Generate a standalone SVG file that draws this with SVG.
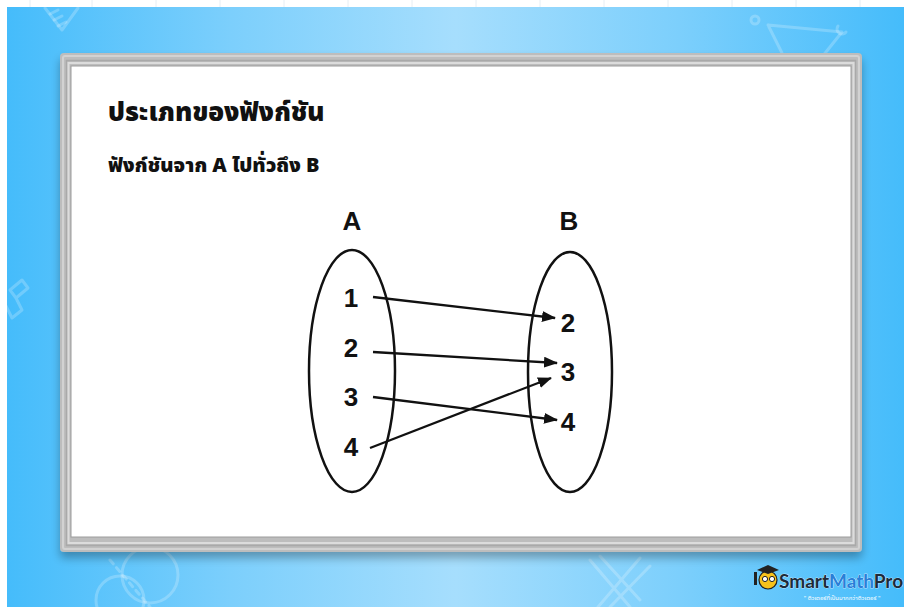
<svg xmlns="http://www.w3.org/2000/svg" width="904" height="607" viewBox="0 0 904 607">
  <defs>
    <linearGradient id="sky" x1="0" y1="0" x2="1" y2="0">
      <stop offset="0" stop-color="#45bcfb"/>
      <stop offset="0.25" stop-color="#7ccffc"/>
      <stop offset="0.5" stop-color="#a6defd"/>
      <stop offset="0.75" stop-color="#7ccffc"/>
      <stop offset="1" stop-color="#45bcfb"/>
    </linearGradient>
    <filter id="shadow" x="-5%" y="-5%" width="110%" height="115%">
      <feGaussianBlur in="SourceAlpha" stdDeviation="5"/>
      <feOffset dx="0" dy="6"/>
      <feComponentTransfer><feFuncA type="linear" slope="0.3"/></feComponentTransfer>
      <feMerge><feMergeNode/><feMergeNode in="SourceGraphic"/></feMerge>
    </filter>
    <marker id="arrow" markerWidth="14" markerHeight="11" refX="13" refY="5.5" orient="auto" markerUnits="userSpaceOnUse">
      <path d="M0,0 L14,5.5 L0,11 Z" fill="#111"/>
    </marker>
    <style>
      .thai { font-family: "Noto Sans Thai", "Noto Sans", "Liberation Sans", sans-serif; font-weight: 900; fill: #111; }
      .lbl { font-family: "Liberation Sans", Arial, sans-serif; font-weight: bold; fill: #111; text-anchor: middle; }
      .set { fill: none; stroke: #111; stroke-width: 2.5; }
      .edge { fill: none; stroke: #111; stroke-width: 2.3; marker-end: url(#arrow); }
      .deco { fill: none; stroke: #ffffff; stroke-opacity: 0.22; stroke-width: 3; stroke-linecap: round; stroke-linejoin: round; }
      .grid { stroke: #e6eef4; stroke-width: 1; }
    </style>
  </defs>

  <!-- page background with grid strip -->
  <rect x="0" y="0" width="904" height="607" fill="#ffffff"/>
  <g class="grid">
    <line x1="30" y1="0" x2="30" y2="7"/><line x1="92" y1="0" x2="92" y2="7"/>
    <line x1="156" y1="0" x2="156" y2="7"/><line x1="220" y1="0" x2="220" y2="7"/>
    <line x1="284" y1="0" x2="284" y2="7"/><line x1="348" y1="0" x2="348" y2="7"/>
    <line x1="412" y1="0" x2="412" y2="7"/><line x1="476" y1="0" x2="476" y2="7"/>
    <line x1="540" y1="0" x2="540" y2="7"/><line x1="604" y1="0" x2="604" y2="7"/>
    <line x1="668" y1="0" x2="668" y2="7"/><line x1="732" y1="0" x2="732" y2="7"/>
    <line x1="796" y1="0" x2="796" y2="7"/><line x1="860" y1="0" x2="860" y2="7"/>
  </g>
  <rect x="7" y="7" width="897" height="600" fill="url(#sky)"/>

  <!-- faint background doodles -->
  <g class="deco">
    <path d="M45,8 L62,30 L78,8"/>
    <path d="M50,14 L58,10 M54,20 L62,16 M58,26 L66,22"/>
    <circle cx="755" cy="20" r="4"/>
    <path d="M768,25 L842,32 L818,62 M768,25 L782,53"/>
    <path d="M838,26 a5,5 0 1 0 8,6"/>
    <path d="M10,290 L22,280 L28,288 L16,298 Z M16,298 L22,310 L12,318 L6,306"/>
    <circle cx="150" cy="575" r="28"/>
    <circle cx="120" cy="600" r="24"/>
    <path d="M110,560 L150,607" stroke-dasharray="5 5"/>
    <path d="M590,560 L630,607 M600,556 L640,600 M640,558 L598,607 M650,566 L610,607"/>
  </g>

  <!-- board frame -->
  <g id="board" filter="url(#shadow)">
    <rect x="60" y="53" width="802" height="499" rx="4" fill="#bdbdbd"/>
    <rect x="63" y="56" width="796" height="493" rx="2" fill="none" stroke="#d2d2d2" stroke-width="2"/>
    <rect x="66.5" y="60.5" width="789" height="485" fill="none" stroke="#a9a9a9" stroke-width="1.5"/>
    <rect x="68.5" y="63" width="785" height="480" fill="none" stroke="#dcdcdc" stroke-width="2"/>
    <rect x="71" y="66" width="780" height="471" fill="#ffffff" stroke="#9c9c9c" stroke-width="1"/>
  </g>

  <!-- headings -->
  <g id="title">
    <text class="thai" x="108" y="121" font-size="26">ประเภทของฟังก์ชัน</text>
  </g>
  <g id="subtitle">
    <text class="thai" x="108" y="172" font-size="20">ฟังก์ชันจาก A ไปทั่วถึง B</text>
  </g>

  <!-- set A -->
  <g id="setA">
    <ellipse class="set" cx="352" cy="371" rx="43" ry="121"/>
    <text class="lbl" x="352" y="230" font-size="26">A</text>
    <text class="lbl" x="351" y="307" font-size="26">1</text>
    <text class="lbl" x="351" y="357" font-size="26">2</text>
    <text class="lbl" x="351" y="406" font-size="26">3</text>
    <text class="lbl" x="351" y="456" font-size="26">4</text>
  </g>

  <!-- set B -->
  <g id="setB">
    <ellipse class="set" cx="570" cy="372" rx="42" ry="120"/>
    <text class="lbl" x="569" y="230" font-size="26">B</text>
    <text class="lbl" x="568" y="332" font-size="26">2</text>
    <text class="lbl" x="568" y="381" font-size="26">3</text>
    <text class="lbl" x="568" y="431" font-size="26">4</text>
  </g>

  <!-- mapping arrows -->
  <g id="connectors">
    <line class="edge" x1="373" y1="297" x2="555" y2="318"/>
    <line class="edge" x1="373" y1="352" x2="557" y2="363"/>
    <line class="edge" x1="373" y1="397" x2="557" y2="420"/>
    <line class="edge" x1="370" y1="448" x2="551" y2="378"/>
  </g>

  <!-- brand mark -->
  <g id="logo">
    <circle cx="768" cy="580" r="9" fill="#f7c21b" stroke="#222" stroke-width="1.2"/>
    <path d="M757,570 L768,565 L779,570 L768,574 Z" fill="#222"/>
    <circle cx="765" cy="579" r="2.6" fill="#fff" stroke="#222" stroke-width="1"/>
    <circle cx="772" cy="579" r="2.6" fill="#fff" stroke="#222" stroke-width="1"/>
    <rect x="754" y="572" width="3" height="13" fill="#222"/>
    <text x="779" y="588" font-family="Lato, 'Liberation Sans', sans-serif" font-weight="bold" font-size="19" fill="#1d2b3a" stroke="#fff" stroke-width="0.6" paint-order="stroke">Smart<tspan fill="#2a7fd8">Math</tspan>Pro</text>
    <text x="842" y="600" font-family="'Noto Sans Thai', 'Noto Sans', sans-serif" font-size="6" fill="#ffffff" text-anchor="middle">" ติวเตอร์ที่เป็นมากกว่าติวเตอร์ "</text>
  </g>
</svg>
